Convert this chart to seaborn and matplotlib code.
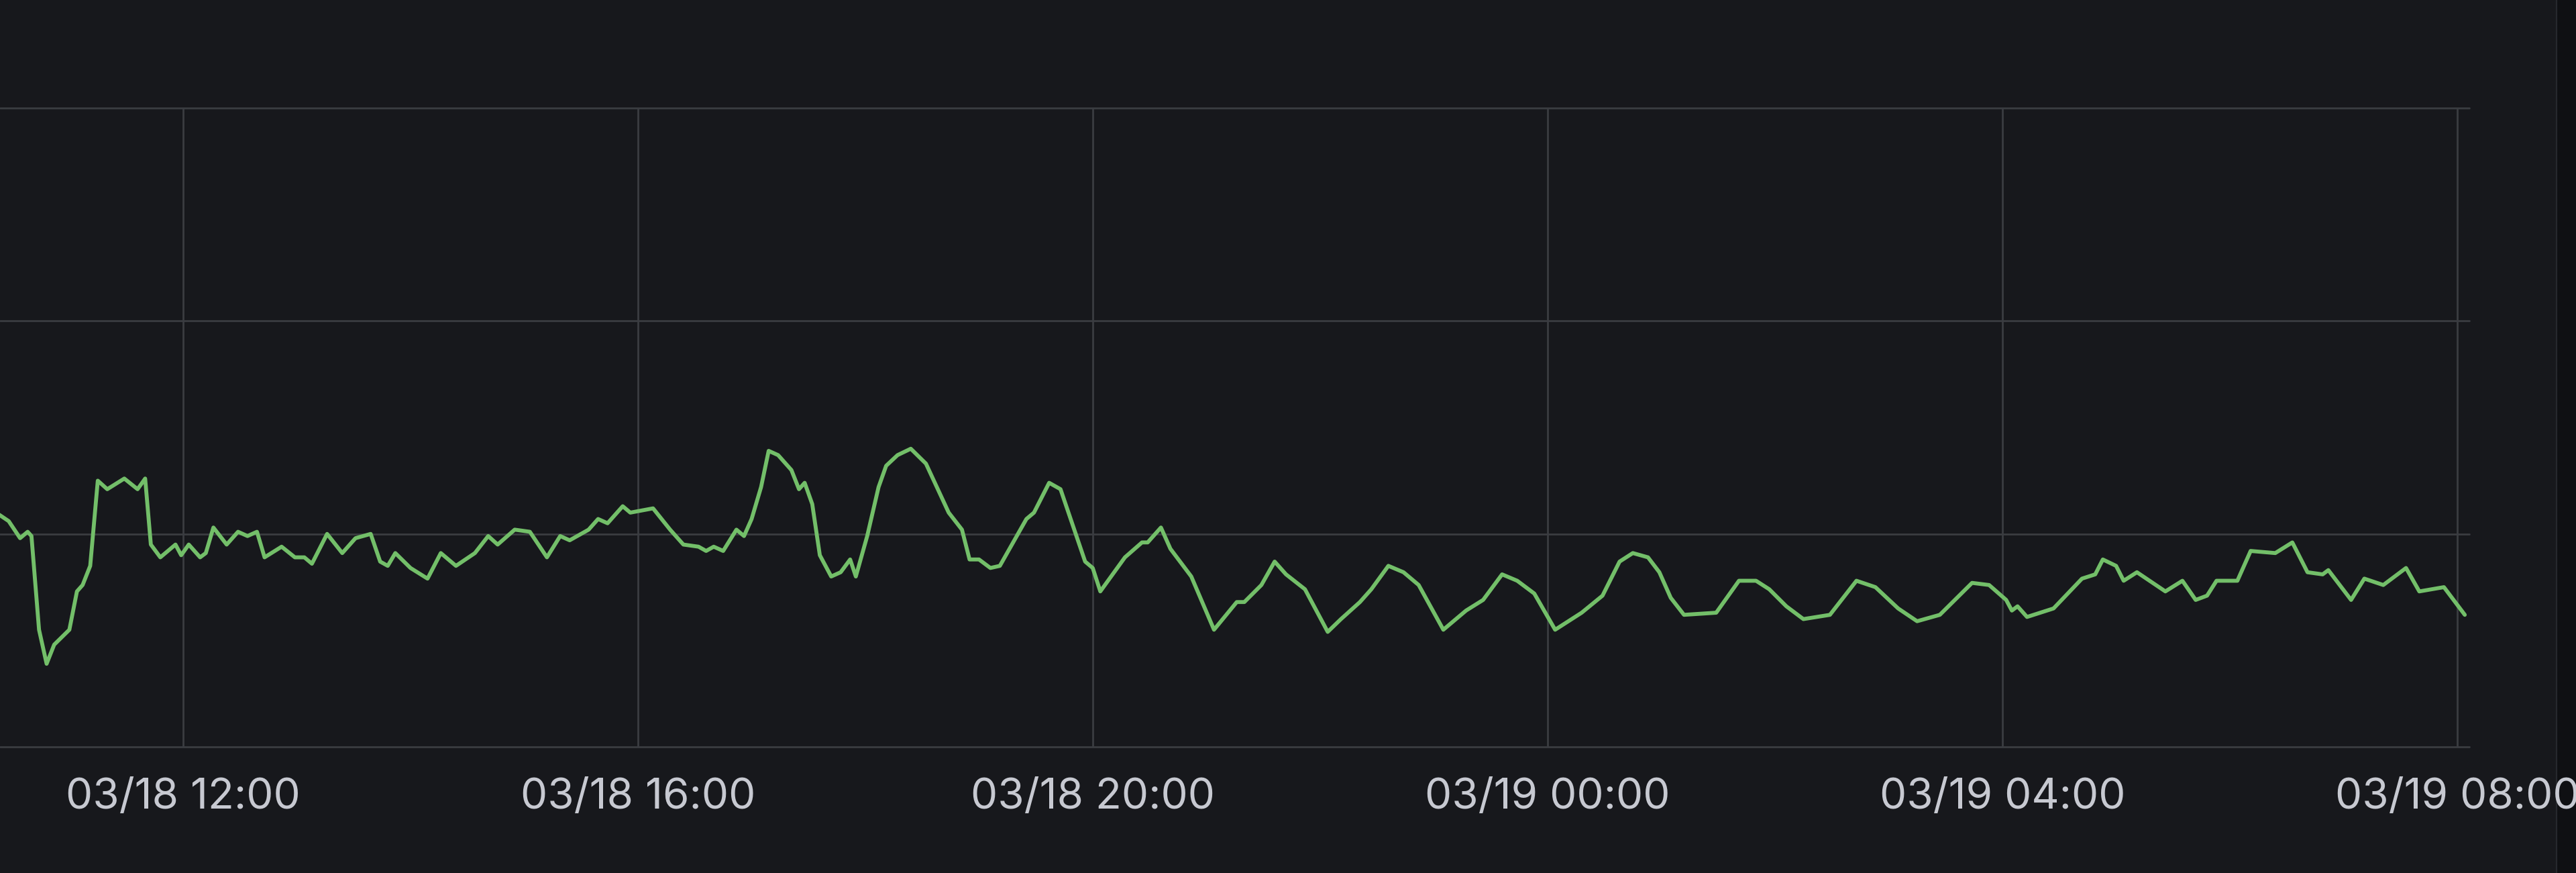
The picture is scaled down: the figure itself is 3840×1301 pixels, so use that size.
"""Grafana-style time series panel, single green series."""
import matplotlib

matplotlib.use("Agg")
import matplotlib.dates as mdates
import matplotlib.pyplot as plt
import pandas as pd
import seaborn as sns
from matplotlib.lines import Line2D
from matplotlib.patches import Rectangle

BG = "#17181c"
OUTER = "#0f1013"
BORDER = "#26282d"
GRID = "#3a3c41"
LINE = "#73bf69"
TEXT = "#c7c9d1"

# readings on 03/18
DAY1_TIMES = [
    "10:23", "10:28", "10:34", "10:38", "10:40", "10:44", "10:48", "10:52", "11:00", "11:04",
    "11:07", "11:11", "11:15", "11:20", "11:29", "11:36", "11:40", "11:43", "11:48", "11:56",
    "11:59", "12:03", "12:09", "12:12", "12:16", "12:23", "12:29", "12:34", "12:39", "12:43",
    "12:52", "12:59", "13:04", "13:08", "13:16", "13:24", "13:31", "13:39", "13:44", "13:48",
    "13:52", "14:00", "14:09", "14:16", "14:24", "14:34", "14:41", "14:46", "14:55", "15:03",
    "15:12", "15:19", "15:24", "15:34", "15:39", "15:44", "15:52", "15:56", "16:08", "16:17",
    "16:24", "16:32", "16:36", "16:40", "16:45", "16:52", "16:56", "17:00", "17:05", "17:09",
    "17:14", "17:21", "17:25", "17:28", "17:32", "17:36", "17:42", "17:47", "17:52", "17:55",
    "18:01", "18:07", "18:11", "18:17", "18:24", "18:32", "18:44", "18:51", "18:55", "19:00",
    "19:06", "19:11", "19:25", "19:29", "19:37", "19:43", "19:56", "20:00", "20:04", "20:17",
    "20:26", "20:29", "20:36", "20:41", "20:52", "21:04", "21:16", "21:20", "21:29", "21:36",
    "21:42", "21:52", "22:04", "22:11", "22:21", "22:27", "22:36", "22:44", "22:52", "23:05",
    "23:17", "23:26", "23:36", "23:44", "23:53",
]
DAY1_VALUES = [
    10.9, 10.6, 9.8, 10.1, 9.9, 5.5, 3.9, 4.8, 5.5, 7.3,
    7.6, 8.5, 12.5, 12.1, 12.6, 12.1, 12.6, 9.5, 8.9, 9.5,
    9.0, 9.5, 8.9, 9.1, 10.3, 9.5, 10.1, 9.9, 10.1, 8.9,
    9.4, 8.9, 8.9, 8.6, 10.0, 9.1, 9.8, 10.0, 8.7, 8.5,
    9.1, 8.4, 7.9, 9.1, 8.5, 9.1, 9.9, 9.5, 10.2, 10.1,
    8.9, 9.9, 9.7, 10.2, 10.7, 10.5, 11.3, 11.0, 11.2, 10.2,
    9.5, 9.4, 9.2, 9.4, 9.2, 10.2, 9.9, 10.7, 12.2, 13.9,
    13.7, 13.0, 12.1, 12.4, 11.4, 9.0, 8.0, 8.2, 8.8, 8.0,
    9.9, 12.2, 13.2, 13.7, 14.0, 13.3, 11.0, 10.2, 8.8, 8.8,
    8.4, 8.5, 10.7, 11.0, 12.4, 12.1, 8.7, 8.4, 7.3, 8.9,
    9.6, 9.6, 10.3, 9.3, 8.0, 5.5, 6.8, 6.8, 7.6, 8.7,
    8.1, 7.4, 5.4, 6.0, 6.8, 7.4, 8.5, 8.2, 7.6, 5.5,
    6.4, 6.9, 8.1, 7.8, 7.2,
]

# readings on 03/19
DAY2_TIMES = [
    "00:04", "00:18", "00:29", "00:38", "00:45", "00:53", "00:59", "01:05", "01:12", "01:29",
    "01:41", "01:50", "01:57", "02:06", "02:15", "02:29", "02:43", "02:53", "03:05", "03:15",
    "03:27", "03:44", "03:53", "04:02", "04:05", "04:08", "04:13", "04:27", "04:42", "04:49",
    "04:53", "05:00", "05:04", "05:11", "05:26", "05:35", "05:42", "05:48", "05:53", "06:04",
    "06:11", "06:24", "06:33", "06:41", "06:49", "06:52", "07:04", "07:11", "07:21", "07:33",
    "07:40", "07:53", "08:04",
]
DAY2_VALUES = [
    5.5, 6.3, 7.1, 8.7, 9.1, 8.9, 8.2, 7.0, 6.2, 6.3,
    7.8, 7.8, 7.4, 6.6, 6.0, 6.2, 7.8, 7.5, 6.5, 5.9,
    6.2, 7.7, 7.6, 6.9, 6.4, 6.6, 6.1, 6.5, 7.9, 8.1,
    8.8, 8.5, 7.8, 8.2, 7.3, 7.8, 6.9, 7.1, 7.8, 7.8,
    9.2, 9.1, 9.6, 8.2, 8.1, 8.3, 6.9, 7.9, 7.6, 8.4,
    7.3, 7.5, 6.2,
]

df = pd.DataFrame({
    "time": pd.to_datetime(
        ["2024-03-18 " + t for t in DAY1_TIMES] + ["2024-03-19 " + t for t in DAY2_TIMES]
    ),
    "value": DAY1_VALUES + DAY2_VALUES,
})

sns.set_theme(style="dark")
plt.rcParams["font.family"] = ["Inter", "DejaVu Sans"]

W, H = 3840, 1301
fig = plt.figure(figsize=(W / 100, H / 100), dpi=100, facecolor=BG)

# dark page strip on the right edge, behind the axes
fig.patches.append(Rectangle((3812 / W, 0), 1, 1, transform=fig.transFigure,
                             facecolor=OUTER, edgecolor="none", zorder=-2))
fig.lines.append(Line2D([3811 / W, 3811 / W], [0, 1], transform=fig.transFigure,
                        color=BORDER, linewidth=1.6, zorder=-1))

ax = fig.add_axes([0, (H - 1113) / H, 3681 / W, (1113 - 161) / H])
ax.set_facecolor(BG)

sns.lineplot(data=df, x="time", y="value", color=LINE, linewidth=4.2, ax=ax)

ax.set_xlim(pd.Timestamp("2024-03-18 10:23:24"), pd.Timestamp("2024-03-19 08:06:24"))
ax.set_ylim(0, 30)
ax.set_yticks([0, 10, 20, 30])
ax.set_yticklabels([])
ax.xaxis.set_major_locator(mdates.HourLocator(byhour=[0, 4, 8, 12, 16, 20]))
ax.xaxis.set_major_formatter(mdates.DateFormatter("%m/%d %H:%M"))
ax.tick_params(axis="x", length=0, pad=33, labelsize=46, labelcolor=TEXT)
ax.tick_params(axis="y", length=0)
ax.set_xlabel("")
ax.set_ylabel("")
ax.grid(True, color=GRID, linewidth=2.0)
for gl in ax.get_ygridlines():
    gl.set_clip_on(False)
for spine in ax.spines.values():
    spine.set_visible(False)

fig.savefig("out.png", dpi=100, facecolor=BG)
